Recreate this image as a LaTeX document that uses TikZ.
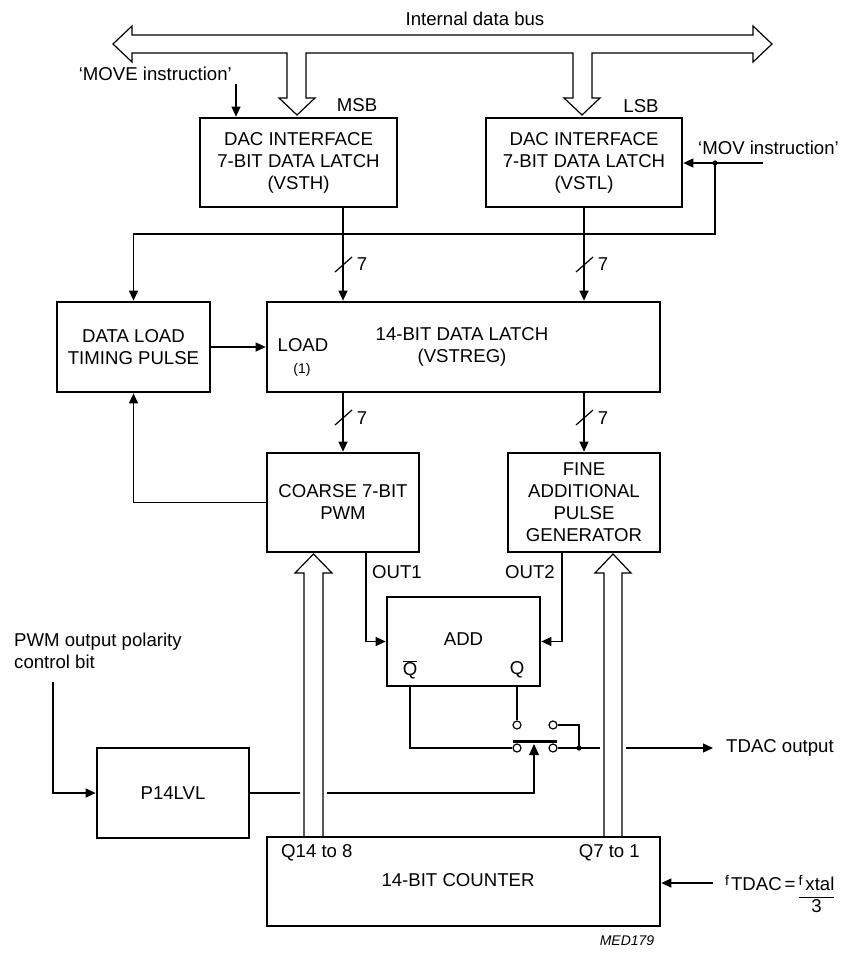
\documentclass[tikz,border=0pt]{standalone}
\usepackage{fontspec}
\setmainfont{Liberation Sans}
\usetikzlibrary{arrows.meta,calc}
\begin{document}
\begin{tikzpicture}[x=1pt,y=-1pt,
  every node/.style={font=\fontsize{18.6}{22}\selectfont, inner sep=0pt},
  box/.style={draw, line width=2.7pt, align=center, fill=white},
  conn/.style={line width=1.2pt},
  arr/.style={conn, -{Triangle[length=10pt,width=9pt]}},
  hollow/.style={line width=1.2pt, fill=white, line join=miter},
  sw/.style={draw, line width=1.2pt, fill=white, circle, minimum size=8pt, inner sep=0pt},
  smalltxt/.style={font=\fontsize{14}{16}\selectfont}]
\useasboundingbox (0,0) rectangle (843,955);

% column coordinates
\coordinate (c343) at (343,0);
\coordinate (c584) at (584,0);
\coordinate (o1) at (366,0);
\coordinate (o2) at (562,0);
\coordinate (qb) at (410,0);
\coordinate (q) at (517,0);

% ---------- boxes ----------
\node[box, minimum width=197, minimum height=89] (vsth) at (298.5,162.5) {DAC INTERFACE\\7-BIT DATA LATCH\\(VSTH)};
\node[box, minimum width=196, minimum height=89] (vstl) at (584,162.5) {DAC INTERFACE\\7-BIT DATA LATCH\\(VSTL)};
\node[box, minimum width=153, minimum height=90] (dl) at (133.5,347) {DATA LOAD\\TIMING PULSE};
\node[box, minimum width=393, minimum height=90] (vstreg) at (463.5,347) {};
\node (load) at (303,345) {LOAD};
\node[smalltxt] (one) at (302,370) {(1)};
\node[align=center] (vstregtxt) at (462,347) {14-BIT DATA LATCH\\(VSTREG)};
\node[box, minimum width=152, minimum height=99] (coarse) at (343,502.5) {COARSE 7-BIT\\PWM};
\node[box, minimum width=152, minimum height=99] (fine) at (584,502.5) {FINE\\ADDITIONAL\\PULSE\\GENERATOR};
\node[box, minimum width=153, minimum height=89] (add) at (463.5,641.5) {};
\node (addtxt) at (463.5,639) {ADD};
\node (qbar) at (410,670) {$\overline{\mbox{Q}}$};
\node (qtxt) at (517,670) {Q};
\node[box, minimum width=152, minimum height=90] (p14) at (173,793) {P14LVL};

% ---------- data bus ----------
\node (bus) at (475,19) {Internal data bus};
\draw[hollow] (113,44) -- (132,26) -- (132,35) -- (753,35) -- (753,26) -- (772,44)
  -- (753,62) -- (753,53) -- (592,53) -- (592,98) -- (600,98) -- (582,115) -- (564,98)
  -- (573,98) -- (573,53) -- (306,53) -- (306,98) -- (315,98) -- (297,115) -- (279,98)
  -- (287,98) -- (287,53) -- (132,53) -- (132,62) -- cycle;
\node (msb) at (357,105) {MSB};
\node (lsb) at (641,106) {LSB};

% ---------- instructions ----------
\node[anchor=east] (move) at (232,74) {‘MOVE instruction’};
\coordinate (movetop) at (236,84);
\draw[arr] (movetop) -- (movetop |- vsth.north);
\node[anchor=west] (mov) at (698,148) {‘MOV instruction’};
\coordinate (movin) at (763,163);
\coordinate (j1) at (715,163);
\coordinate (j1b) at (715,234);
\draw[arr] (movin) -- (vstl.east |- movin);
\draw[arr] (j1) -- (j1b) -| (dl.north);
\fill (j1) circle (2.6);

% ---------- 7-bit paths ----------
\draw[arr] (vsth.south -| c343) -- (vstreg.north -| c343);
\draw[arr] (vstl.south -| c584) -- (vstreg.north -| c584);
\draw[arr] (vstreg.south -| c343) -- (coarse.north -| c343);
\draw[arr] (vstreg.south -| c584) -- (fine.north -| c584);
\draw[conn] (335,272) -- (352,257); \node (n7a) at (362,264) {7};
\draw[conn] (576,272) -- (593,257); \node (n7b) at (603,264) {7};
\draw[conn] (335,425) -- (352,410); \node (n7c) at (362,418) {7};
\draw[conn] (576,425) -- (593,410); \node (n7d) at (603,418) {7};

\draw[arr] (dl.east) -- (vstreg.west |- dl.east);
\draw[arr] (coarse.west) -| (dl.south);

% ---------- outputs to ADD ----------
\draw[arr] (coarse.south -| o1) |- (add.west);
\draw[arr] (fine.south -| o2) |- (add.east);
\node[anchor=west] (out1) at (372,572) {OUT1};
\node[anchor=east] (out2) at (555,572) {OUT2};

% ---------- switch ----------
\node[sw] (s1) at (517,725) {};
\node[sw] (s2) at (553,725) {};
\node[sw] (s3) at (517,748) {};
\node[sw] (s4) at (553,748) {};
\draw[line width=3pt] (513,741) -- (557,741);
\coordinate (tri) at (534,755);
\fill (534,744) -- (539,755) -- (529,755) -- cycle;
\coordinate (jn) at (579,748);
\draw[conn] (add.south -| qb) |- (s3.west);
\draw[conn] (add.south -| q) -- (s1.north);
\draw[conn] (s2.east) -| (jn);
\draw[conn] (s4.east) -- (jn);
\fill (jn) circle (2.6);
\node[anchor=west] (tdac) at (726,748) {TDAC output};
\draw[arr] (jn) -- ([xshift=-13pt]tdac.west);

% ---------- polarity ----------
\node[anchor=west, align=left] (pol) at (14,651) {PWM output polarity\\control bit};
\coordinate (polout) at (53,682);
\draw[arr] (polout) |- (p14.west);
\draw[conn] (p14.east) -| (tri);

% gaps where lines pass behind counter buses
\fill[white] (300,787) rectangle (327,799);
\fill[white] (600,742) rectangle (626,754);

% ---------- counter buses ----------
\draw[hollow] (304,837) -- (304,573) -- (295,573) -- (313.5,554) -- (332,573) -- (323,573) -- (323,837);
\draw[hollow] (604,837) -- (604,573) -- (595,573) -- (613,554) -- (631,573) -- (622,573) -- (622,837);

% ---------- counter ----------
\node[box, minimum width=393, minimum height=89] (counter) at (463.5,881.5) {};
\node[anchor=west] (q14) at (281,853) {Q14 to 8};
\node[anchor=east] (q7) at (640,853) {Q7 to 1};
\node (cnt) at (458,880) {14-BIT COUNTER};
\coordinate (fin) at (713,883);
\draw[arr] (fin) -- (counter.east |- fin);
\node[anchor=base west] (ftdac) at (725,890) {\raisebox{5pt}{\fontsize{14}{14}\selectfont f}\hspace{2pt}TDAC\hspace{3pt}=\hspace{3pt}\begin{tabular}[t]{@{}c@{}}\raisebox{5pt}{\fontsize{14}{14}\selectfont f}\hspace{3pt}xtal\\\hline 3\end{tabular}};
\node[font=\fontsize{14}{16}\selectfont\itshape] (med) at (627,941) {MED179};
\end{tikzpicture}
\end{document}
